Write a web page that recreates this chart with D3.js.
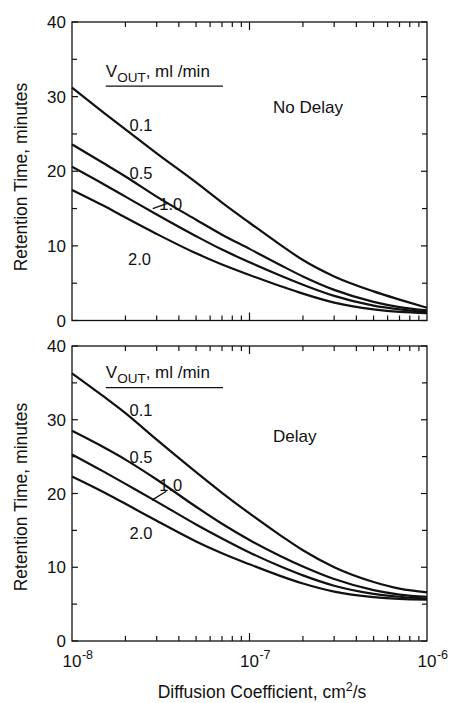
<!DOCTYPE html>
<html>
<head>
<meta charset="utf-8">
<script src="https://cdn.jsdelivr.net/npm/d3@7"></script>
<style>
  html, body { margin: 0; padding: 0; background: #fff; }
  svg { display: block; }
  text { font-family: "Liberation Sans", Arial, Helvetica, sans-serif; fill: #111; }
</style>
</head>
<body>
<svg id="chart" width="450" height="703"></svg>
<script>
// ---- data ----
const diffusion = [1e-8, 1.5e-8, 2e-8, 3e-8, 5e-8, 7e-8, 1e-7, 1.5e-7, 2e-7, 3e-7, 5e-7, 7e-7, 1e-6];
const flowRates = ["0.1", "0.5", "1.0", "2.0"];

// No Delay panel (minutes)
const noDelay01 = [31.2, 27.9, 25.6, 22.4, 18.5, 15.8, 13.1, 10.1, 8.1, 5.9, 3.9, 2.8, 1.7];
const noDelay05 = [23.6, 21.1, 19.3, 16.6, 13.5, 11.5, 9.6, 7.4, 5.9, 4.1, 2.5, 1.8, 1.35];
const noDelay10 = [20.6, 18.3, 16.6, 14.2, 11.3, 9.5, 7.8, 6.0, 4.8, 3.3, 2.0, 1.5, 1.15];
const noDelay20 = [17.5, 15.4, 13.8, 11.6, 9.0, 7.5, 6.1, 4.6, 3.6, 2.4, 1.5, 1.15, 1.0];

// Delay panel (minutes)
const delay01 = [36.3, 33.2, 30.9, 27.3, 22.9, 20.1, 17.3, 14.3, 12.3, 10.0, 8.0, 7.1, 6.6];
const delay05 = [28.5, 26.3, 24.6, 21.9, 18.2, 15.9, 13.7, 11.5, 10.1, 8.4, 6.9, 6.3, 6.0];
const delay10 = [25.3, 23.0, 21.3, 18.9, 15.8, 13.9, 12.0, 10.1, 8.9, 7.5, 6.4, 6.0, 5.75];
const delay20 = [22.3, 20.2, 18.6, 16.3, 13.5, 11.9, 10.4, 8.8, 7.8, 6.7, 5.95, 5.7, 5.6];

const yTickValues = [0, 10, 20, 30, 40];
const xTickExponents = ["-8", "-7", "-6"];
const panelTitles = ["No Delay", "Delay"];

// label anchors in data space: [D, minutes]
const labelPosTop = [[2.45e-8, 25.4], [2.45e-8, 18.9], [3.6e-8, 14.8], [2.4e-8, 7.4]];
const labelPosBottom = [[2.45e-8, 30.5], [2.45e-8, 24.2], [3.6e-8, 20.4], [2.45e-8, 13.8]];
const leaderTop = [[2.85e-8, 15.0], [3.45e-8, 15.7]];
const leaderBottom = [[2.82e-8, 19.1], [3.4e-8, 20.3]];
const legendPos = [[1.55e-8, 32.6], [1.55e-8, 35.7]];

// ---- drawing ----
const svg = d3.select("#chart");
const x = d3.scaleLog().domain([1e-8, 1e-6]).range([72, 427]);

const panels = [
  { top: 22, bottom: 320.5, series: [noDelay01, noDelay05, noDelay10, noDelay20],
    title: panelTitles[0], labels: labelPosTop, leader: leaderTop, legend: legendPos[0], underlineGap: 9, titleY: 113, ylabY: 177 },
  { top: 346, bottom: 641, series: [delay01, delay05, delay10, delay20],
    title: panelTitles[1], labels: labelPosBottom, leader: leaderBottom, legend: legendPos[1], underlineGap: 10, titleY: 442, ylabY: 497 }
];

const minorX = [];
[1e-8, 1e-7].forEach(dec => { for (let k = 2; k <= 9; k++) minorX.push(dec * k); });

panels.forEach((p, pi) => {
  const y = d3.scaleLinear().domain([0, 40]).range([p.bottom, p.top]);
  const g = svg.append("g");

  // frame
  g.append("rect")
    .attr("x", x.range()[0]).attr("y", p.top)
    .attr("width", x.range()[1] - x.range()[0]).attr("height", p.bottom - p.top)
    .attr("fill", "none").attr("stroke", "#111").attr("stroke-width", 1.3);

  // y ticks (left and right, inward)
  const yTicksAll = d3.range(0, 41, 5);
  yTicksAll.forEach(v => {
    const len = v % 10 === 0 ? 6 : 5;
    g.append("line").attr("x1", x.range()[0]).attr("x2", x.range()[0] + len)
      .attr("y1", y(v)).attr("y2", y(v)).attr("stroke", "#111").attr("stroke-width", 1.2);
    g.append("line").attr("x1", x.range()[1]).attr("x2", x.range()[1] - len)
      .attr("y1", y(v)).attr("y2", y(v)).attr("stroke", "#111").attr("stroke-width", 1.2);
  });
  yTickValues.forEach(v => {
    g.append("text").attr("x", 66).attr("y", y(v)).attr("dy", "0.36em")
      .attr("text-anchor", "end").attr("font-size", 17).text(v);
  });

  // x ticks (bottom and top, inward)
  const xMajor = [1e-7];
  minorX.concat(xMajor).forEach(v => {
    const len = xMajor.includes(v) ? 8 : 5;
    g.append("line").attr("x1", x(v)).attr("x2", x(v))
      .attr("y1", p.bottom).attr("y2", p.bottom - len).attr("stroke", "#111").attr("stroke-width", 1.2);
    g.append("line").attr("x1", x(v)).attr("x2", x(v))
      .attr("y1", p.top).attr("y2", p.top + len).attr("stroke", "#111").attr("stroke-width", 1.2);
  });

  // curves
  const line = d3.line()
    .x((d, i) => x(diffusion[i]))
    .y(d => y(d))
    .curve(d3.curveMonotoneX);
  p.series.forEach(s => {
    g.append("path").datum(s).attr("d", line)
      .attr("fill", "none").attr("stroke", "#111").attr("stroke-width", 2.2)
      .attr("stroke-linejoin", "round");
  });

  // curve labels
  flowRates.forEach((lab, i) => {
    g.append("text").attr("x", x(p.labels[i][0])).attr("y", y(p.labels[i][1]))
      .attr("text-anchor", "middle").attr("font-size", 16.5).text(lab);
  });
  g.append("line")
    .attr("x1", x(p.leader[0][0])).attr("y1", y(p.leader[0][1]))
    .attr("x2", x(p.leader[1][0])).attr("y2", y(p.leader[1][1]))
    .attr("stroke", "#111").attr("stroke-width", 1.3);

  // legend title
  const lx = x(p.legend[0]), ly = y(p.legend[1]);
  const lt = g.append("text").attr("x", lx).attr("y", ly).attr("font-size", 17);
  lt.append("tspan").text("V");
  lt.append("tspan").attr("font-size", 13.5).attr("dy", 5).text("OUT");
  lt.append("tspan").attr("dy", -5).text(", ml /min");
  g.append("line").attr("x1", lx).attr("x2", 223)
    .attr("y1", ly + p.underlineGap).attr("y2", ly + p.underlineGap)
    .attr("stroke", "#111").attr("stroke-width", 1.3);

  // panel title
  g.append("text").attr("x", 273).attr("y", p.titleY).attr("font-size", 17).text(p.title);

  // y axis label
  g.append("text").attr("transform", `translate(27,${p.ylabY}) rotate(-90)`)
    .attr("text-anchor", "middle").attr("font-size", 17.5).text("Retention Time, minutes");
});

// x tick labels under bottom panel
const decades = [1e-8, 1e-7, 1e-6];
decades.forEach((v, i) => {
  const base = svg.append("text").attr("x", x(v)).attr("y", 667)
    .attr("text-anchor", "middle").attr("font-size", 17).text("10");
  const w = base.node().getComputedTextLength();
  svg.append("text").attr("x", x(v) + w / 2 + 0.5).attr("y", 659)
    .attr("font-size", 12.5).text(xTickExponents[i]);
});

// x axis label
const xl = svg.append("text").attr("x", 262).attr("y", 698)
  .attr("text-anchor", "middle").attr("font-size", 17.5);
xl.append("tspan").text("Diffusion Coefficient, cm");
xl.append("tspan").attr("font-size", 12.5).attr("dy", -7).text("2");
xl.append("tspan").attr("dy", 7).text("/s");
</script>
</body>
</html>
